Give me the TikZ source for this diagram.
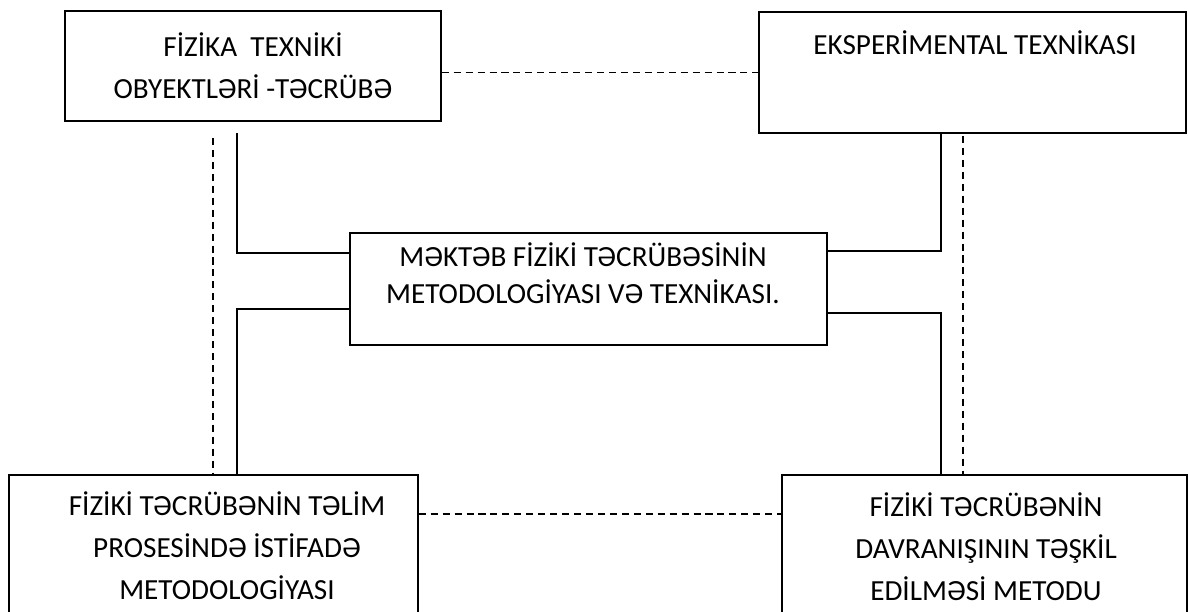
\documentclass[tikz,border=0pt]{standalone}
\usepackage{fontspec}
\setmainfont{Carlito}
\usetikzlibrary{positioning}
\tikzset{
  frame/.style={draw,line width=0.9pt,inner sep=0pt},
  txt/.style={align=center,inner sep=0pt,font=\fontsize{16.6pt}{23.8pt}\selectfont},
  ln/.style={line width=0.9pt},
  dsh/.style={line width=0.9pt,dash pattern=on 4pt off 2.8pt}
}
\begin{document}
\begin{tikzpicture}[x=0.02cm,y=-0.02cm]
\useasboundingbox (0,0) rectangle (1188,612);
% boxes
\node[frame,txt,minimum width=7.52cm,minimum height=2.2cm] (tl) at (253,66) {FİZİKA\ \ TEXNİKİ\\OBYEKTLƏRİ -TƏCRÜBƏ};
\node[frame,minimum width=8.54cm,minimum height=2.42cm] (tr) at (972.5,72.5) {};
\node[frame,minimum width=9.54cm,minimum height=2.24cm] (mid) at (588.5,289) {};
\node[frame,minimum width=8.18cm,minimum height=3.4cm] (bl) at (213.5,560) {};
\node[frame,minimum width=8.1cm,minimum height=3.4cm] (br) at (984.5,560) {};
% texts
\node[txt] (trT) at (975,43) {EKSPERİMENTAL TEXNİKASI};
\node[txt,font=\fontsize{16.6pt}{21pt}\selectfont] (midT) at (583,273) {MƏKTƏB FİZİKİ TƏCRÜBƏSİNİN\\METODOLOGİYASI VƏ TEXNİKASI.};
\node[txt] (blT) at (227,546) {FİZİKİ TƏCRÜBƏNİN TƏLİM\\PROSESİNDƏ İSTİFADƏ\\METODOLOGİYASI};
\node[txt] (brT) at (986,547) {FİZİKİ TƏCRÜBƏNİN\\DAVRANIŞININ TƏŞKİL\\EDİLMƏSİ METODU};
% links
\coordinate (la) at (237,133);
\coordinate (rx) at (941,0);
\coordinate (ld) at (213,138);
\coordinate (rd) at (963,136);
\draw[ln] (la) |- ([yshift=0.72cm]mid.west);
\draw[ln] ([yshift=-0.4cm]mid.west) -| (bl.north -| la);
\draw[ln] (tr.south -| rx) |- ([yshift=0.76cm]mid.east);
\draw[ln] ([yshift=-0.48cm]mid.east) -| (br.north -| rx);
\draw[dsh] (tl.east |- tr.west) -- (tr.west);
\draw[dsh] ([yshift=0.92cm]bl.east) -- ([yshift=0.92cm]br.west);
\draw[dsh] (ld) -- (ld |- bl.north);
\draw[dsh] (rd) -- (rd |- br.north);
\end{tikzpicture}
\end{document}
